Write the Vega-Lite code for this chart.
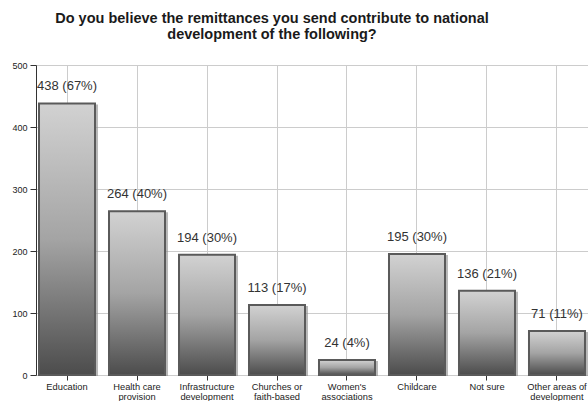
{
  "$schema": "https://vega.github.io/schema/vega-lite/v6.json",
  "width": 552,
  "height": 310,
  "autosize": {"type": "none"},
  "padding": {"left": 36, "top": 65, "right": 0, "bottom": 26},
  "background": "white",
  "title": {
    "text": ["Do you believe the remittances you send contribute to national", "development of the following?"],
    "font": "Liberation Sans",
    "fontSize": 14.5,
    "fontWeight": "bold",
    "color": "#1a1a1a",
    "lineHeight": 16,
    "anchor": "middle",
    "dx": -40,
    "offset": 19
  },
  "data": {
    "values": [
      {"cat": "Education", "n": 438, "label": "438 (67%)"},
      {"cat": "Health care|provision", "n": 264, "label": "264 (40%)"},
      {"cat": "Infrastructure|development", "n": 194, "label": "194 (30%)"},
      {"cat": "Churches or|faith-based", "n": 113, "label": "113 (17%)"},
      {"cat": "Women's|associations", "n": 24, "label": "24 (4%)"},
      {"cat": "Childcare", "n": 195, "label": "195 (30%)"},
      {"cat": "Not sure", "n": 136, "label": "136 (21%)"},
      {"cat": "Other areas of|development", "n": 71, "label": "71 (11%)"}
    ]
  },
  "encoding": {
    "x": {
      "field": "cat", "type": "nominal", "sort": null, "title": null,
      "scale": {"paddingInner": 0.2, "paddingOuter": 0.043},
      "axis": {
        "labelAngle": 0, "labelExpr": "split(datum.label, '|')",
        "labelFont": "Liberation Sans", "labelFontSize": 9.3, "labelColor": "#222",
        "labelLineHeight": 10, "labelPadding": 2,
        "grid": true, "gridColor": "#cccccc", "gridWidth": 1,
        "domain": false, "ticks": true, "tickColor": "#333", "tickSize": 5,
        "bandPosition": 0.5
      }
    },
    "y": {
      "field": "n", "type": "quantitative", "title": null,
      "scale": {"domain": [0, 500], "nice": false},
      "axis": {
        "values": [0, 100, 200, 300, 400, 500],
        "labelFont": "Liberation Sans", "labelFontSize": 9, "labelColor": "#222",
        "grid": true, "gridColor": "#cccccc",
        "domain": true, "domainColor": "#333", "domainWidth": 1,
        "tickColor": "#333", "tickSize": 6, "labelPadding": 3
      }
    }
  },
  "layer": [
    {
      "mark": {"type": "bar", "color": "#8a8a8a", "opacity": 0.6, "xOffset": 3, "yOffset": 1}
    },
    {
      "mark": {
        "type": "bar",
        "color": {
          "gradient": "linear", "x1": 0, "y1": 0, "x2": 0, "y2": 1,
          "stops": [
            {"offset": 0, "color": "#d2d2d2"},
            {"offset": 0.5, "color": "#a4a4a4"},
            {"offset": 1, "color": "#4c4c4c"}
          ]
        },
        "stroke": "#5a5a5a",
        "strokeWidth": 2,
        "opacity": 1
      }
    },
    {
      "mark": {
        "type": "text", "dy": -10, "font": "Liberation Sans", "fontSize": 13,
        "color": "#333333", "baseline": "bottom"
      },
      "encoding": {"text": {"field": "label"}}
    }
  ]
}
